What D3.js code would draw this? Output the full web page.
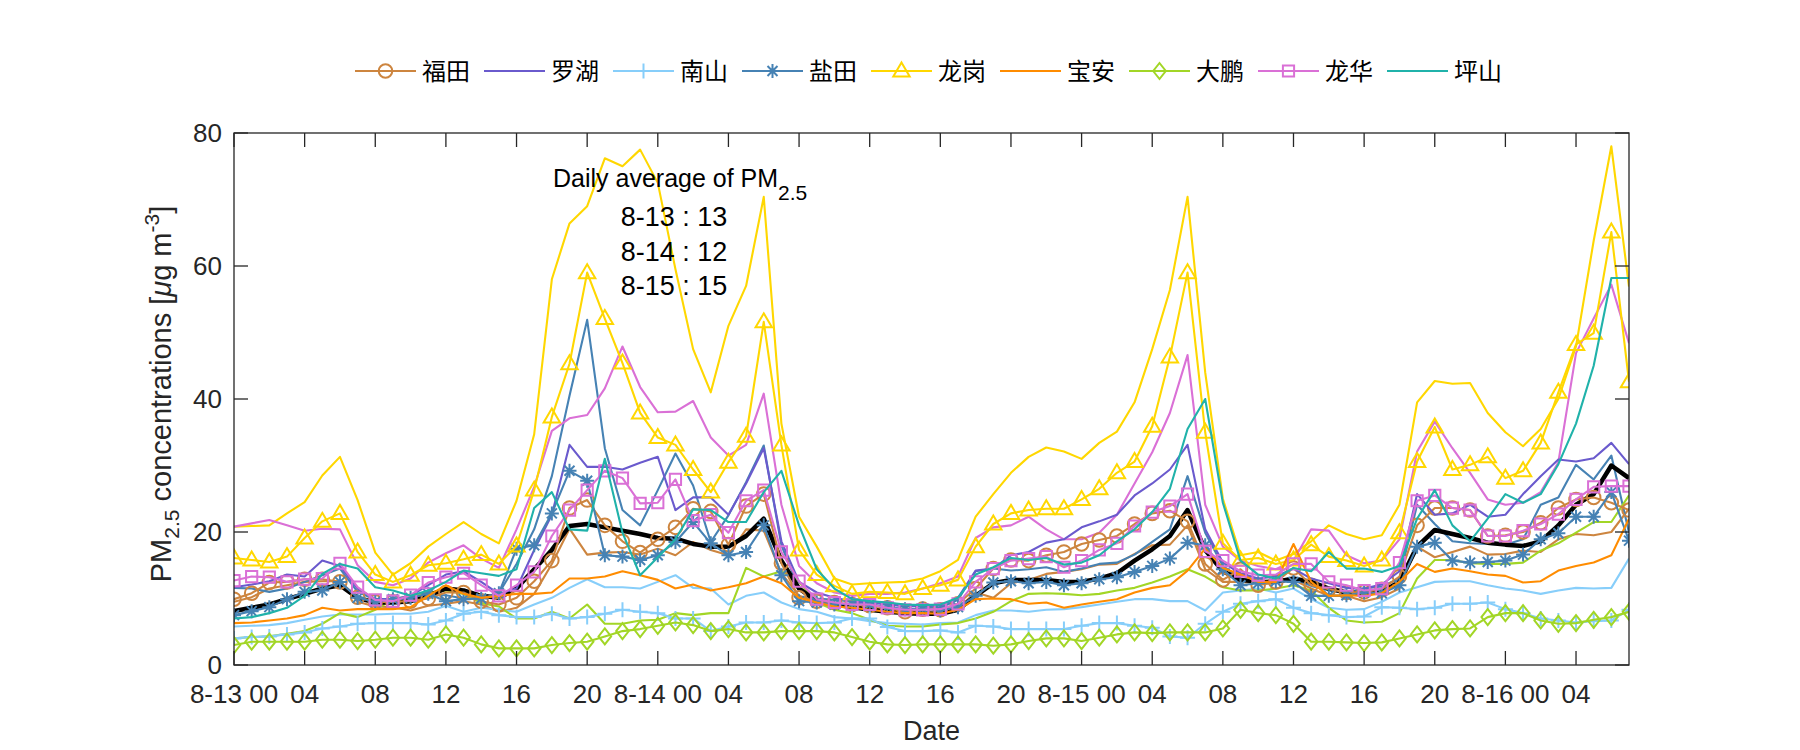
<!DOCTYPE html>
<html><head><meta charset="utf-8">
<script src="https://cdn.jsdelivr.net/npm/d3@7"></script>
<style>body{margin:0;background:#fff;} svg{display:block;}</style>
</head><body>
<svg id="chart" width="1800" height="750"></svg>
<script>
// ---------- data ----------
const districts = ["福田","罗湖","南山","盐田","龙岗","宝安","大鹏","龙华","坪山"];
const colors    = ["#CD853F","#6A5ACD","#87CEFA","#4682B4","#FFD700","#FF8C00","#A2D626","#DA70D6","#20B2AA"];
const markers   = ["circle","none","plus","star","triangle","none","diamond","square","none"];
const tickLabels = ["8-13 00","04","08","12","16","20","8-14 00","04","08","12","16","20","8-15 00","04","08","12","16","20","8-16 00","04"];
const yTicks = [0,20,40,60,80];
const dailyDates = ["8-13","8-14","8-15"];
const dailyAvg = [13,12,15];

const futian = [9.9,10.8,12.4,12.5,12.9,12.9,12.5,10.2,9.5,9.5,9.6,10.0,10.9,10.9,
 9.6,9.1,10.1,12.6,15.7,23.6,24.8,21.0,18.6,16.9,18.9,20.7,23.5,
 23.1,18.1,23.9,25.7,15.3,10.1,9.6,9.4,9.1,8.9,8.6,8.0,8.4,
 8.3,9.2,11.5,14.5,15.8,15.7,16.5,17.0,18.2,18.8,19.4,21.2,22.8,
 23.2,21.6,15.2,12.8,14.4,12.0,12.5,14.6,12.0,11.4,10.9,11.0,11.4,
 13.3,21.0,23.6,23.6,23.3,19.4,19.5,20.0,21.4,23.6,24.9,25.2,24.4,23.3];
const luohu = [11.7,12.1,12.6,13.6,13.3,15.7,14.9,11.5,9.9,9.9,10.4,12.0,13.6,14.1,
 12.5,10.7,11.5,17.3,22.6,33.1,29.8,29.8,29.4,30.4,31.3,23.3,25.2,
 25.2,22.6,27.3,32.6,18.6,12.5,10.9,10.1,9.6,9.4,9.1,8.8,8.9,
 8.9,10.1,14.2,14.5,16.5,17.0,18.4,18.9,20.7,21.6,22.6,25.5,27.3,
 29.4,33.1,20.4,15.4,13.8,13.0,13.3,14.5,13.0,12.3,11.6,11.5,12.1,
 14.1,25.7,22.6,22.8,24.1,22.3,22.6,25.7,28.4,30.9,30.6,31.1,33.4,30.2];
const nanshan = [4.0,4.2,4.3,4.6,4.9,5.5,5.8,6.2,6.3,6.3,6.3,6.1,6.7,7.7,
 8.0,7.5,7.2,7.2,7.7,7.0,7.2,7.7,8.3,8.0,7.8,7.0,7.0,
 5.1,5.8,6.4,6.4,6.7,6.4,6.3,6.4,7.0,7.0,5.7,5.1,5.1,
 5.2,4.9,5.9,5.8,5.4,5.4,5.4,5.4,5.9,6.3,6.3,5.9,5.6,
 4.3,4.1,6.2,8.0,9.2,9.6,9.9,8.6,7.8,7.5,7.2,7.3,8.7,
 8.6,8.4,8.6,9.2,9.2,9.4,8.4,7.8,7.0,6.7,6.4,6.6,6.7,8.3];
const yantian = [7.5,8.1,8.7,9.9,11.0,11.2,12.5,10.1,9.5,9.9,10.1,10.7,9.6,9.9,
 10.0,10.8,17.5,18.0,22.8,29.2,27.7,16.5,16.3,15.8,16.5,18.5,21.5,
 18.3,16.5,17.0,21.0,13.5,9.6,9.4,9.1,9.2,9.1,8.7,8.4,8.5,
 8.2,8.7,10.4,12.4,12.6,12.3,12.5,12.0,12.3,12.9,13.2,14.0,14.9,
 16.0,18.4,18.0,14.4,12.0,12.3,12.6,12.5,10.4,10.4,10.5,10.9,10.8,
 12.0,17.8,18.4,15.7,15.4,15.5,15.7,16.6,18.9,19.8,22.3,22.3,26.0,18.7];
const longgang = [16.1,15.8,15.5,16.3,19.1,21.6,22.8,17.0,13.6,12.5,13.5,15.0,15.3,15.9,
 16.6,15.2,17.9,26.3,37.3,45.3,59.0,52.1,45.4,37.9,34.2,33.1,29.4,
 26.0,30.5,34.4,51.6,33.1,17.3,13.6,11.9,10.7,11.0,10.9,10.7,11.5,
 12.0,12.8,17.8,21.2,22.8,23.3,23.5,23.5,24.9,26.5,28.9,30.6,35.9,
 46.3,59.0,35.0,18.3,15.8,16.1,15.2,15.8,18.1,16.3,15.7,14.9,15.8,
 19.9,30.6,35.8,29.4,30.1,31.3,28.1,29.2,33.4,41.0,48.2,49.9,65.1,42.6];
const baoan = [6.3,6.4,6.7,7.0,7.5,8.6,8.2,8.4,8.4,8.4,8.7,10.4,12.0,10.7,
 10.1,10.4,10.7,10.7,10.9,13.0,13.0,13.3,14.1,13.5,12.8,11.5,12.1,
 11.2,11.7,12.3,13.3,12.3,10.1,9.4,8.8,8.6,8.3,8.0,7.8,7.8,
 7.7,8.3,9.9,10.0,9.9,9.2,9.4,8.6,9.1,9.5,9.9,10.9,11.6,
 12.0,14.2,17.5,14.6,13.6,12.5,12.5,18.2,12.5,10.4,10.5,10.4,10.8,
 12.5,15.2,14.0,14.5,14.1,13.6,13.4,12.4,12.6,14.2,14.9,15.4,16.5,22.0];
const dapeng = [3.0,3.5,3.5,3.5,3.5,3.8,3.8,3.6,3.8,4.1,4.1,3.8,4.6,4.1,
 3.1,2.5,2.5,2.5,3.0,3.3,3.5,4.3,5.1,5.4,5.9,6.4,6.0,
 5.1,5.4,4.9,4.9,5.1,5.1,5.1,4.9,4.2,3.5,3.1,3.0,3.1,
 3.1,3.1,3.1,2.9,3.1,3.6,4.0,4.0,3.6,4.1,4.6,4.9,4.8,
 4.9,4.9,4.9,5.5,8.3,7.8,7.5,6.2,3.5,3.5,3.4,3.3,3.4,
 4.0,4.6,5.2,5.4,5.5,7.2,7.8,7.8,6.7,6.2,6.3,6.8,7.2,8.0];
const longhua = [12.7,13.3,13.2,12.5,12.9,13.0,15.3,11.7,9.8,9.6,10.5,12.4,13.2,13.8,
 12.0,10.4,12.0,14.0,19.4,23.3,26.3,29.2,28.1,24.3,24.4,27.9,21.7,
 22.6,19.9,24.7,26.3,17.0,12.6,9.9,9.4,9.1,9.1,8.6,8.3,8.3,
 8.4,9.2,12.5,14.5,15.7,16.0,16.3,14.7,15.7,17.3,18.3,20.9,23.0,
 23.9,25.7,17.1,15.7,14.1,13.5,13.6,15.2,15.2,12.5,12.0,11.2,11.5,
 15.4,24.7,25.5,23.6,23.3,19.4,19.4,20.2,21.2,22.7,24.9,26.8,26.9,26.9];
const pingshan = [7.0,7.2,7.8,8.6,10.4,13.7,15.2,14.5,11.7,11.2,10.4,11.2,12.5,14.2,
 13.8,13.4,14.4,23.6,26.0,20.4,20.2,31.0,19.9,13.5,16.2,18.9,23.4,
 23.3,21.5,21.5,26.0,29.2,21.0,14.4,11.5,9.9,9.6,9.4,9.1,9.0,
 9.1,10.1,13.6,14.7,16.1,15.8,16.1,15.1,15.4,16.5,18.6,20.4,23.0,
 26.5,35.5,40.0,24.4,15.7,13.6,13.0,14.6,14.1,17.0,14.5,14.5,14.0,
 14.9,22.0,26.3,21.0,18.6,22.0,25.7,24.4,25.7,30.2,36.3,45.0,58.2,58.2];
// city-wide hourly average (thick black line, not in legend)
const cityAvg = [8.1,8.6,9.1,9.9,10.7,11.5,12.0,10.1,9.4,9.4,9.6,10.4,11.5,11.2,
 10.4,10.1,11.5,14.4,17.3,20.9,21.2,20.7,20.2,19.7,19.1,19.0,18.2,
 17.8,17.8,19.4,22.0,15.7,11.5,9.6,9.1,8.7,8.3,8.0,7.8,7.7,
 7.7,8.3,10.4,12.3,12.8,12.8,12.8,12.5,12.5,13.0,13.8,15.7,17.4,
 19.4,23.3,17.3,14.1,12.8,12.5,12.5,13.0,12.5,11.5,10.9,10.7,11.0,
 12.5,17.8,20.3,19.7,19.1,18.4,18.1,17.9,18.6,21.0,24.1,25.7,30.0,28.1];
// second-station lines (plain, same colours, not in legend)
const futian2 = [9.5,10.2,11.5,12.0,12.5,12.6,12.6,9.5,8.8,8.7,8.2,8.9,9.2,9.6,
 9.1,8.0,8.6,10.7,15.2,20.5,16.6,16.9,17.0,16.6,17.5,16.5,18.5,
 17.3,16.5,20.4,20.2,13.8,10.4,9.6,9.2,8.8,8.6,8.3,8.0,8.0,
 7.8,8.6,10.9,10.1,12.3,12.8,13.7,14.0,14.4,15.1,15.2,16.7,18.0,
 18.1,21.0,14.4,12.5,12.5,12.3,12.5,12.8,11.5,10.4,10.4,9.6,10.2,
 11.5,17.8,16.2,17.0,17.8,16.6,16.7,17.2,17.0,18.9,19.7,19.5,20.0,23.5];
const nanshan2 = [5.8,5.9,6.0,6.3,6.8,7.3,7.6,7.6,7.6,7.7,7.7,8.0,8.9,8.0,
 8.6,8.3,8.0,9.1,10.1,11.6,12.9,11.7,11.7,11.5,12.5,13.5,11.6,
 11.5,9.1,10.4,10.9,9.4,8.4,8.0,7.2,7.0,6.6,6.3,6.2,6.1,
 6.3,6.4,7.5,8.2,8.2,8.0,8.3,8.4,8.7,9.1,9.5,9.9,9.9,
 9.6,9.6,8.2,10.9,11.2,11.5,10.9,11.5,9.9,8.6,8.3,8.4,9.5,
 10.9,11.7,12.5,12.6,12.6,12.0,11.5,11.2,10.7,11.2,11.6,11.5,11.6,16.0];
const yantian2 = [11.6,11.5,11.0,11.5,12.5,13.5,14.5,11.0,9.8,9.6,9.8,10.5,10.5,10.0,
 10.0,10.8,15.2,20.4,28.4,40.5,51.9,32.6,23.3,21.0,26.3,31.8,27.0,
 18.5,22.5,27.5,33.0,18.0,11.5,10.0,9.8,9.5,9.5,9.3,9.0,8.8,
 8.6,9.8,14.1,14.5,14.2,14.4,14.7,14.0,14.5,15.2,15.4,16.6,18.5,
 20.4,28.4,19.9,14.9,13.0,12.5,12.8,13.0,11.9,11.2,10.9,11.5,11.8,
 13.0,24.1,21.2,18.6,18.3,18.2,18.1,18.9,24.1,25.2,30.1,27.9,31.5,19.9];
const longgang2 = [20.8,20.9,21.0,22.8,24.5,28.5,31.3,24.8,16.9,13.6,15.3,17.8,19.7,21.5,
 19.7,18.3,24.7,34.7,58.0,66.4,69.0,76.2,75.0,77.5,72.5,59.5,47.5,
 41.0,51.0,57.0,70.4,36.3,22.3,17.8,13.0,12.1,12.3,12.4,12.5,13.0,
 14.1,15.8,22.3,25.7,28.9,31.3,32.7,32.1,31.0,33.4,35.1,39.5,47.5,
 56.4,70.4,44.0,25.0,16.5,17.0,15.7,16.7,18.6,21.0,19.7,18.9,19.5,
 24.1,39.5,42.7,42.3,42.4,37.9,35.0,32.9,35.5,40.0,47.9,63.8,78.0,56.9];
const dapeng2 = [4.0,4.2,4.3,4.7,5.1,6.2,7.8,7.2,8.3,9.9,10.4,10.9,11.2,10.7,
 9.3,8.8,7.0,7.0,8.0,7.0,9.1,6.2,6.2,6.7,6.8,7.8,7.5,
 7.8,7.8,14.6,13.3,14.1,12.5,9.4,8.3,7.8,6.8,5.9,5.8,5.8,
 6.1,6.3,7.0,8.0,9.6,10.7,10.8,10.7,10.5,10.7,11.2,11.6,12.4,
 13.3,14.4,13.3,11.7,11.2,11.2,11.5,12.0,11.2,8.6,6.7,6.4,6.5,
 7.8,13.0,15.8,15.8,15.3,15.2,15.2,15.4,17.2,18.3,19.9,21.5,21.5,25.5];
const longhua2 = [20.8,21.3,21.8,21.0,20.2,20.5,20.4,15.0,12.5,12.0,13.0,15.4,16.8,18.0,
 16.0,14.6,20.4,26.8,35.2,37.1,37.6,41.6,47.9,41.8,38.0,38.1,39.7,
 34.2,31.5,33.1,40.8,24.1,14.9,12.3,10.9,10.4,10.7,10.7,10.9,11.5,
 12.3,13.3,19.1,20.7,21.0,22.3,20.4,18.9,18.9,19.9,22.6,27.3,32.0,
 37.9,46.6,24.1,17.8,15.7,14.9,14.4,15.7,20.4,20.2,16.5,15.3,15.7,
 18.9,32.1,36.6,32.6,28.9,24.9,24.1,24.4,26.0,30.5,46.9,52.1,57.2,48.4];

const mainSeries = [futian,luohu,nanshan,yantian,longgang,baoan,dapeng,longhua,pingshan];
const extraSeries = [
  {values: futian2,   colorIdx: 0},
  {values: nanshan2,  colorIdx: 2},
  {values: yantian2,  colorIdx: 3},
  {values: longgang2, colorIdx: 4},
  {values: dapeng2,   colorIdx: 6},
  {values: longhua2,  colorIdx: 7}
];

// ---------- layout ----------
const M = {left: 234, right: 1629, top: 133, bottom: 665};
const FONT = "'Liberation Sans', Arial, sans-serif";
const CJK = "'Noto Sans CJK SC', 'Liberation Sans', sans-serif";
const AX = "#262626";

const svg = d3.select("#chart");
const nHours = futian.length;
const x = d3.scaleLinear().domain([0, nHours - 1]).range([M.left, M.right]);
const y = d3.scaleLinear().domain([0, 80]).range([M.bottom, M.top]);
const tickHours = tickLabels.map((_, i) => i * 4);

// marker paths
function markerPath(type) {
  switch (type) {
    case "circle": return d3.symbol().type(d3.symbolCircle).size(Math.PI * 46)();
    case "plus": return "M-7.5,0H7.5M0,-7.5V7.5";
    case "star": return "M-7,0H7M0,-7V7M-5,-5L5,5M-5,5L5,-5";
    case "triangle": return "M0,-8.5L8.2,5.5L-8.2,5.5Z";
    case "diamond": return "M0,-8L6.3,0L0,8L-6.3,0Z";
    case "square": return "M-5.6,-5.6H5.6V5.6H-5.6Z";
    default: return null;
  }
}

const line = d3.line().x((d, i) => x(i)).y(d => y(d));
svg.append("clipPath").attr("id","clip").append("rect")
  .attr("x", M.left).attr("y", M.top).attr("width", M.right - M.left).attr("height", M.bottom - M.top);
const plot = svg.append("g").attr("clip-path","url(#clip)");

// extra plain lines
extraSeries.forEach(s => {
  plot.append("path").datum(s.values).attr("d", line)
    .attr("fill","none").attr("stroke", colors[s.colorIdx]).attr("stroke-width", 2.1)
    .attr("stroke-linejoin","round");
});
// city average
plot.append("path").datum(cityAvg).attr("d", line)
  .attr("fill","none").attr("stroke","#000").attr("stroke-width", 4.5).attr("stroke-linejoin","round");
// main series
mainSeries.forEach((vals, k) => {
  plot.append("path").datum(vals).attr("d", line)
    .attr("fill","none").attr("stroke", colors[k]).attr("stroke-width", 2.1).attr("stroke-linejoin","round");
  const mp = markerPath(markers[k]);
  if (mp) {
    plot.selectAll(null).data(vals).enter().append("path")
      .attr("d", mp).attr("transform", (d, i) => `translate(${x(i)},${y(d)})`)
      .attr("fill","none").attr("stroke", colors[k]).attr("stroke-width", 2);
  }
});

// axes box
const axG = svg.append("g");
axG.append("rect").attr("x", M.left).attr("y", M.top).attr("width", M.right - M.left).attr("height", M.bottom - M.top)
  .attr("fill","none").attr("stroke", AX).attr("stroke-width", 1.3);
const TL = 14;
tickHours.forEach((h, i) => {
  axG.append("line").attr("x1", x(h)).attr("x2", x(h)).attr("y1", M.bottom).attr("y2", M.bottom - TL).attr("stroke", AX).attr("stroke-width",1.3);
  axG.append("line").attr("x1", x(h)).attr("x2", x(h)).attr("y1", M.top).attr("y2", M.top + TL).attr("stroke", AX).attr("stroke-width",1.3);
  axG.append("text").attr("x", x(h)).attr("y", M.bottom + 38).attr("text-anchor","middle")
    .attr("font-family", FONT).attr("font-size", 26).attr("fill", AX).text(tickLabels[i]);
});
yTicks.forEach(v => {
  axG.append("line").attr("x1", M.left).attr("x2", M.left + TL).attr("y1", y(v)).attr("y2", y(v)).attr("stroke", AX).attr("stroke-width",1.3);
  axG.append("line").attr("x1", M.right).attr("x2", M.right - TL).attr("y1", y(v)).attr("y2", y(v)).attr("stroke", AX).attr("stroke-width",1.3);
  axG.append("text").attr("x", M.left - 12).attr("y", y(v) + 9).attr("text-anchor","end")
    .attr("font-family", FONT).attr("font-size", 26).attr("fill", AX).text(v);
});

// axis labels
svg.append("text").attr("x", (M.left + M.right) / 2).attr("y", 740).attr("text-anchor","middle")
  .attr("font-family", FONT).attr("font-size", 27).attr("fill", AX).text("Date");
const yl = svg.append("text").attr("transform", `translate(171,394) rotate(-90)`)
  .attr("text-anchor","middle").attr("font-family", FONT).attr("font-size", 29).attr("fill", AX);
yl.append("tspan").text("PM");
yl.append("tspan").attr("font-size", 21).attr("dy", 8).text("2.5");
yl.append("tspan").attr("dy", -8).text(" concentrations [");
yl.append("tspan").attr("font-style","italic").text("μ");
yl.append("tspan").text("g m");
yl.append("tspan").attr("font-size", 21).attr("dy", -12).text("-3");
yl.append("tspan").attr("dy", 12).text("]");

// annotation
const t0 = svg.append("text").attr("x", 553).attr("y", 187)
  .attr("font-family", FONT).attr("font-size", 25).attr("fill","#000");
t0.append("tspan").text("Daily average of PM");
t0.append("tspan").attr("font-size", 21).attr("dy", 13).text("2.5");
dailyDates.forEach((d, i) => {
  svg.append("text").attr("x", 674).attr("y", 226 + i * 34.5).attr("text-anchor","middle")
    .attr("font-family", FONT).attr("font-size", 27).attr("fill","#000").text(`${d} : ${dailyAvg[i]}`);
});

// legend
const legY = 71;
districts.forEach((name, k) => {
  const lx = 355 + k * 129;
  const g = svg.append("g");
  g.append("line").attr("x1", lx).attr("x2", lx + 61).attr("y1", legY).attr("y2", legY)
    .attr("stroke", colors[k]).attr("stroke-width", 2.1);
  const mp = markerPath(markers[k]);
  if (mp) g.append("path").attr("d", mp).attr("transform", `translate(${lx + 30.5},${legY})`)
    .attr("fill","none").attr("stroke", colors[k]).attr("stroke-width", 2);
  g.append("text").attr("x", lx + 67).attr("y", legY + 9).attr("font-family", CJK).attr("font-size", 24)
    .attr("fill","#000").text(name);
});
</script>
</body></html>
